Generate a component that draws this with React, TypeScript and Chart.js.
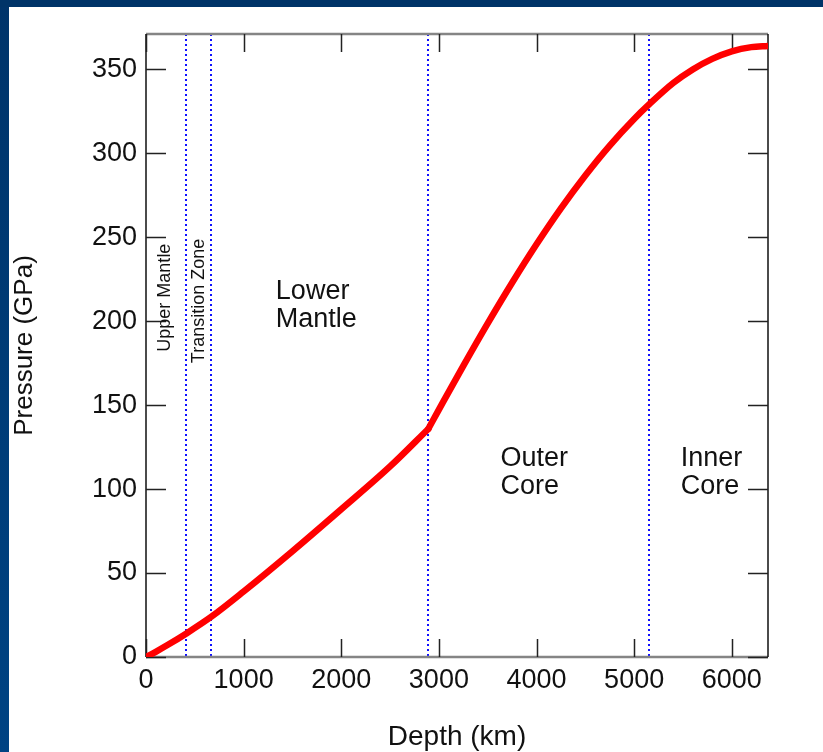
import React, { useEffect, useRef } from "react";
import { Chart, registerables } from "chart.js";

Chart.register(...registerables);

// Mantle: depth below surface (km) and pressure (GPa)
const mantleDepthKm = [0, 100, 220, 410, 670, 1000, 1500, 2000, 2500, 2891];
const mantlePressureGPa = [0, 3.1, 7.1, 13.9, 24.0, 39, 63, 88, 113.5, 135.8];
// Core: depth (km) and pressure (GPa)
const coreDepthKm = [2891, 3000, 3250, 3500, 3750, 4000, 4250, 4500, 4750, 5000, 5150, 5400, 5600, 5800, 6000, 6200, 6371];
const corePressureGPa = [135.8, 147.3, 173.4, 198.7, 222.9, 245.8, 267.2, 286.8, 304.6, 320.4, 328.9, 341.8, 349.9, 356.2, 360.7, 363.2, 363.9];

const xTickValues = [0, 1000, 2000, 3000, 4000, 5000, 6000];
const yTickValues = [0, 50, 100, 150, 200, 250, 300, 350];

// Layer boundaries (km)
const boundaryKm = [410, 670, 2891, 5150];

// Region labels: text lines, anchor depth (km), anchor pressure (GPa)
const regionLabels = [
  { lines: ["Lower", "Mantle"], km: 1330, gpa: 209 },
  { lines: ["Outer", "Core"], km: 3630, gpa: 110 },
  { lines: ["Inner", "Core"], km: 5477, gpa: 110 },
];
const verticalLabels = [
  { text: "Upper Mantle", km: 195, gpa: 214 },
  { text: "Transition Zone", km: 545, gpa: 212 },
];

const FONT = "'Liberation Sans', Arial, Helvetica, sans-serif";

const decorPlugin = {
  id: "decor",
  beforeDraw(chart: any) {
    const { ctx, width, height } = chart;
    ctx.save();
    ctx.fillStyle = "#ffffff";
    ctx.fillRect(0, 0, width, height);
    const g = ctx.createLinearGradient(0, 0, 0, height);
    g.addColorStop(0, "#00346a");
    g.addColorStop(1, "#004383");
    ctx.fillStyle = g;
    ctx.fillRect(0, 0, 9, height);
    ctx.fillStyle = "#003468";
    ctx.fillRect(0, 0, width, 7);
    ctx.restore();
  },
  beforeDatasetsDraw(chart: any) {
    const { ctx, chartArea: a, scales } = chart;
    const xs = scales.x, ys = scales.y;
    ctx.save();
    // boundaries
    ctx.strokeStyle = "#1010ff";
    ctx.lineWidth = 2;
    ctx.setLineDash([2, 3]);
    boundaryKm.forEach((k) => {
      const px = Math.round(xs.getPixelForValue(k));
      ctx.beginPath();
      ctx.moveTo(px, a.top);
      ctx.lineTo(px, a.bottom);
      ctx.stroke();
    });
    ctx.setLineDash([]);
    // frame top/bottom (gray)
    ctx.strokeStyle = "#858585";
    ctx.lineWidth = 2.5;
    ctx.beginPath();
    ctx.moveTo(a.left, a.top);
    ctx.lineTo(a.right, a.top);
    ctx.moveTo(a.left, a.bottom);
    ctx.lineTo(a.right, a.bottom);
    ctx.stroke();
    // frame left/right (black)
    ctx.strokeStyle = "#111";
    ctx.lineWidth = 1.5;
    ctx.beginPath();
    ctx.moveTo(a.left, a.top);
    ctx.lineTo(a.left, a.bottom);
    ctx.moveTo(a.right, a.top);
    ctx.lineTo(a.right, a.bottom);
    ctx.stroke();
    // inward ticks
    ctx.strokeStyle = "#222";
    ctx.lineWidth = 1.5;
    ctx.beginPath();
    xTickValues.forEach((v) => {
      const px = Math.round(xs.getPixelForValue(v)) + 0.5;
      ctx.moveTo(px, a.bottom);
      ctx.lineTo(px, a.bottom - 18);
      ctx.moveTo(px, a.top);
      ctx.lineTo(px, a.top + 18);
    });
    yTickValues.forEach((v) => {
      const py = Math.round(ys.getPixelForValue(v)) + 0.5;
      ctx.moveTo(a.left, py);
      ctx.lineTo(a.left + 20, py);
      ctx.moveTo(a.right, py);
      ctx.lineTo(a.right - 20, py);
    });
    ctx.stroke();
    ctx.restore();
  },
  afterDraw(chart: any) {
    const { ctx, scales } = chart;
    const xs = scales.x, ys = scales.y;
    ctx.save();
    ctx.fillStyle = "#111";
    ctx.font = `27px ${FONT}`;
    ctx.textAlign = "left";
    ctx.textBaseline = "middle";
    regionLabels.forEach((r) => {
      const px = xs.getPixelForValue(r.km);
      const py = ys.getPixelForValue(r.gpa);
      const lh = 28;
      r.lines.forEach((t, i) => {
        ctx.fillText(t, px, py + (i - (r.lines.length - 1) / 2) * lh);
      });
    });
    ctx.font = `18px ${FONT}`;
    ctx.textAlign = "center";
    verticalLabels.forEach((r) => {
      const px = xs.getPixelForValue(r.km);
      const py = ys.getPixelForValue(r.gpa);
      ctx.save();
      ctx.translate(px, py);
      ctx.rotate(-Math.PI / 2);
      ctx.fillText(r.text, 0, 0);
      ctx.restore();
    });
    ctx.restore();
  },
};

const lineStyle = {
  borderColor: "#ff0000",
  borderWidth: 6.5,
  pointRadius: 0,
  cubicInterpolationMode: "monotone",
  fill: false,
  borderCapStyle: "round",
  borderJoinStyle: "round",
};

export default function App() {
  const ref = useRef<HTMLCanvasElement | null>(null);
  useEffect(() => {
    if (!ref.current) return;
    const chart = new Chart(ref.current, {
      type: "line",
      data: {
        datasets: [
          { ...lineStyle, data: mantleDepthKm.map((d, i) => ({ x: d, y: mantlePressureGPa[i] })) },
          { ...lineStyle, data: coreDepthKm.map((d, i) => ({ x: d, y: corePressureGPa[i] })) },
        ],
      },
      options: {
        responsive: false,
        animation: false,
        devicePixelRatio: 1,
        layout: { padding: { left: 0, top: 34, right: 55, bottom: 0 } },
        plugins: { legend: { display: false }, tooltip: { enabled: false } },
        scales: {
          x: {
            type: "linear",
            min: 0,
            max: 6371,
            afterBuildTicks: (s: any) => {
              s.ticks = xTickValues.map((v) => ({ value: v }));
            },
            afterFit: (s: any) => {
              s.height = 95;
            },
            grid: { display: false, drawTicks: false },
            border: { display: false },
            ticks: {
              padding: 7,
              maxRotation: 0,
              autoSkip: false,
              color: "#111",
              font: { family: FONT, size: 27 },
              callback: (v: any) => String(v),
            },
            title: {
              display: true,
              text: "Depth (km)",
              color: "#111",
              font: { family: FONT, size: 28 },
              padding: { top: 0, bottom: -2 },
            },
          },
          y: {
            type: "linear",
            min: 0,
            max: 371,
            afterBuildTicks: (s: any) => {
              s.ticks = yTickValues.map((v) => ({ value: v }));
            },
            afterFit: (s: any) => {
              s.width = 146;
            },
            grid: { display: false, drawTicks: false },
            border: { display: false },
            ticks: {
              padding: 9,
              autoSkip: false,
              color: "#111",
              font: { family: FONT, size: 27 },
              callback: (v: any) => String(v),
            },
            title: {
              display: true,
              text: "Pressure (GPa)",
              color: "#111",
              font: { family: FONT, size: 26 },
              padding: { top: 9, bottom: 0 },
            },
          },
        },
      },
      plugins: [decorPlugin],
    } as any);
    return () => chart.destroy();
  }, []);
  return (
    <div style={{ position: "absolute", left: 0, top: 0, width: 823, height: 752 }}>
      <canvas ref={ref} width={823} height={752} style={{ display: "block" }} />
    </div>
  );
}
